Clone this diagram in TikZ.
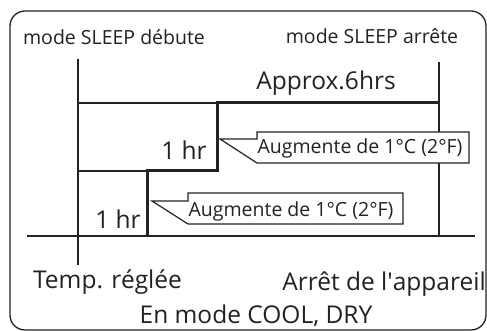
\documentclass[tikz,border=0pt]{standalone}
\usepackage{fontspec}
\setmainfont{Open Sans}
\definecolor{ink}{HTML}{222222}
\begin{document}
\begin{tikzpicture}[x=1pt,y=-1pt,
  thin line/.style={draw=ink,line width=1.3pt},
  thick line/.style={draw=ink,line width=3pt},
  small/.style={font=\fontsize{19.5}{19.5}\selectfont,text=ink,inner sep=0pt,anchor=base},
  big/.style={font=\fontsize{24.5}{24.5}\selectfont,text=ink,inner sep=0pt,anchor=base},
  callout/.style={draw=ink,line width=1.2pt,fill=white}]
\useasboundingbox (0,0) rectangle (487,331);
\draw[thin line,rounded corners=15pt] (10,11) rectangle (486,330);
% coordinates
\coordinate (lt) at (78,59);
\coordinate (lb) at (78,265);
\coordinate (rt) at (439,62);
\coordinate (rb) at (439,236);
\coordinate (bl) at (27,236);
\coordinate (br) at (475,236);
\coordinate (h1l) at (78,103);
\coordinate (s1) at (217,103);
\coordinate (s2) at (217,171);
\coordinate (h2l) at (78,171);
\coordinate (s3) at (147,171);
\coordinate (s4) at (147,236);
\coordinate (top) at (439,103);
\draw[thin line] (lt) -- (lb);
\draw[thin line] (rt) -- (rb);
\draw[thin line] (bl) -- (br);
\draw[thin line] (h1l) -- (s1);
\draw[thin line] (h2l) -- (s3);
\draw[thick line,line join=miter] (top) -- (s1) -- (s2) -- (s3) -- (s4);
% callouts
\draw[callout] (257,139) -- (257,132) -- (469,132) -- (469,163) -- (257,163) -- (220,139) -- cycle;
\draw[callout] (188,201) -- (188,193) -- (403,193) -- (403,224) -- (188,224) -- (152,201) -- cycle;
% texts
\node[small] (t1) at (114,45) {mode SLEEP débute};
\node[small] (t2) at (372,44) {mode SLEEP arrête};
\node[big] (t3) at (326,90) {Approx.6hrs};
\node[big] (t4) at (184,160) {1 hr};
\node[big] (t5) at (118,228) {1 hr};
\node[small] (t6) at (360,154) {Augmente de 1°C (2°F)};
\node[small] (t7) at (291,217) {Augmente de 1°C (2°F)};
\node[big] (t8) at (107.5,288) {Temp. réglée};
\node[big] (t9) at (384,290) {Arrêt de l\textquotesingle appareil};
\node[big] (t10) at (256,323) {En mode COOL, DRY};
\end{tikzpicture}
\end{document}
